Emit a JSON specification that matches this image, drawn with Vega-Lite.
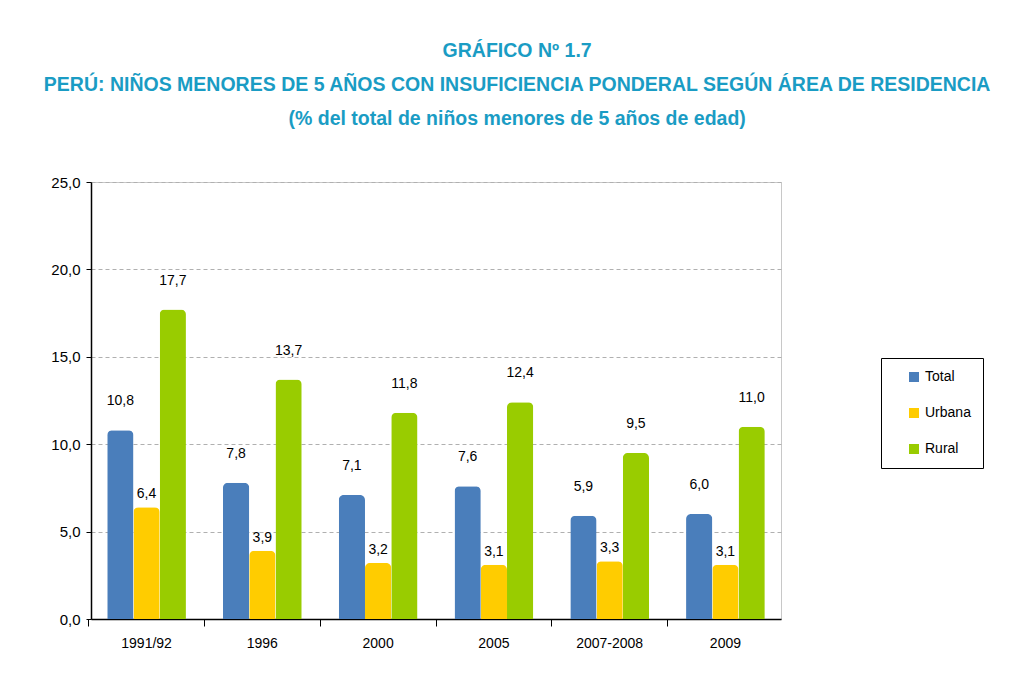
{
  "$schema": "https://vega.github.io/schema/vega-lite/v6.json",
  "width": 690,
  "height": 437,
  "padding": {"left": 42, "top": 40, "right": 10, "bottom": 10},
  "background": "white",
  "title": {
    "text": ["GRÁFICO Nº 1.7", "PERÚ: NIÑOS MENORES DE 5 AÑOS CON INSUFICIENCIA PONDERAL SEGÚN ÁREA DE RESIDENCIA", "(% del total de niños menores de 5 años de edad)"],
    "font": "Liberation Sans",
    "fontSize": 19.5,
    "fontWeight": "bold",
    "color": "#1a9cc4",
    "lineHeight": 34,
    "anchor": "middle",
    "frame": "bounds",
    "offset": 46
  },
  "data": {
    "values": [
      {"periodo": "1991/92", "area": "Total", "valor": 10.8},
      {"periodo": "1991/92", "area": "Urbana", "valor": 6.4},
      {"periodo": "1991/92", "area": "Rural", "valor": 17.7},
      {"periodo": "1996", "area": "Total", "valor": 7.8},
      {"periodo": "1996", "area": "Urbana", "valor": 3.9},
      {"periodo": "1996", "area": "Rural", "valor": 13.7},
      {"periodo": "2000", "area": "Total", "valor": 7.1},
      {"periodo": "2000", "area": "Urbana", "valor": 3.2},
      {"periodo": "2000", "area": "Rural", "valor": 11.8},
      {"periodo": "2005", "area": "Total", "valor": 7.6},
      {"periodo": "2005", "area": "Urbana", "valor": 3.1},
      {"periodo": "2005", "area": "Rural", "valor": 12.4},
      {"periodo": "2007-2008", "area": "Total", "valor": 5.9},
      {"periodo": "2007-2008", "area": "Urbana", "valor": 3.3},
      {"periodo": "2007-2008", "area": "Rural", "valor": 9.5},
      {"periodo": "2009", "area": "Total", "valor": 6.0},
      {"periodo": "2009", "area": "Urbana", "valor": 3.1},
      {"periodo": "2009", "area": "Rural", "valor": 11.0}
    ]
  },
  "encoding": {
    "x": {
      "field": "periodo", "type": "nominal", "sort": null, "title": null,
      "scale": {"paddingInner": 0.32, "paddingOuter": 0.14},
      "axis": {"labelAngle": 0, "bandPosition": -0.235, "labelPadding": 10, "tickSize": 7, "domainColor": "black", "tickColor": "black", "domainWidth": 1.5, "grid": false}
    },
    "xOffset": {"field": "area", "type": "nominal", "sort": ["Total", "Urbana", "Rural"]},
    "y": {
      "field": "valor", "type": "quantitative", "title": null,
      "scale": {"domain": [0, 25]},
      "axis": {"values": [0, 5, 10, 15, 20, 25], "format": ".1f", "tickSize": 5, "domainColor": "black", "tickColor": "black", "domainWidth": 1.5, "gridDash": [4, 3], "gridColor": "#b0b0b0", "labelPadding": 6, "labelFontSize": 15}
    }
  },
  "layer": [
    {
      "mark": {"type": "bar", "cornerRadiusTopLeft": 5, "cornerRadiusTopRight": 5},
      "encoding": {
        "color": {
          "field": "area", "type": "nominal",
          "sort": ["Total", "Urbana", "Rural"],
          "scale": {"domain": ["Total", "Urbana", "Rural"], "range": ["#4a7ebb", "#ffcc00", "#99cc00"]},
          "legend": {
            "title": null, "orient": "none", "legendX": 790, "legendY": 176,
            "symbolType": "square", "symbolSize": 100, "symbolStrokeWidth": 0, "symbolOffset": 14,
            "labelFontSize": 14, "labelFont": "Liberation Sans", "labelColor": "black",
            "rowPadding": 22, "padding": 12, "strokeColor": "black",
            "labelLimit": 200
          }
        }
      }
    },
    {
      "transform": [{"filter": "datum.area !== 'Urbana'"}],
      "mark": {"type": "text", "baseline": "bottom", "dy": -22, "fontSize": 14, "font": "Liberation Sans", "color": "black"},
      "encoding": {"text": {"field": "valor", "type": "quantitative", "format": ".1f"}}
    },
    {
      "transform": [{"filter": "datum.area === 'Urbana'"}],
      "mark": {"type": "text", "baseline": "bottom", "dy": -6, "fontSize": 14, "font": "Liberation Sans", "color": "black"},
      "encoding": {"text": {"field": "valor", "type": "quantitative", "format": ".1f"}}
    }
  ],
  "config": {
    "locale": {"number": {"decimal": ",", "thousands": ".", "grouping": [3], "currency": ["", ""]}},
    "font": "Liberation Sans",
    "axis": {"labelFontSize": 14, "labelColor": "black", "labelFont": "Liberation Sans"},
    "view": {"stroke": "#c8c8c8"}
  }
}
